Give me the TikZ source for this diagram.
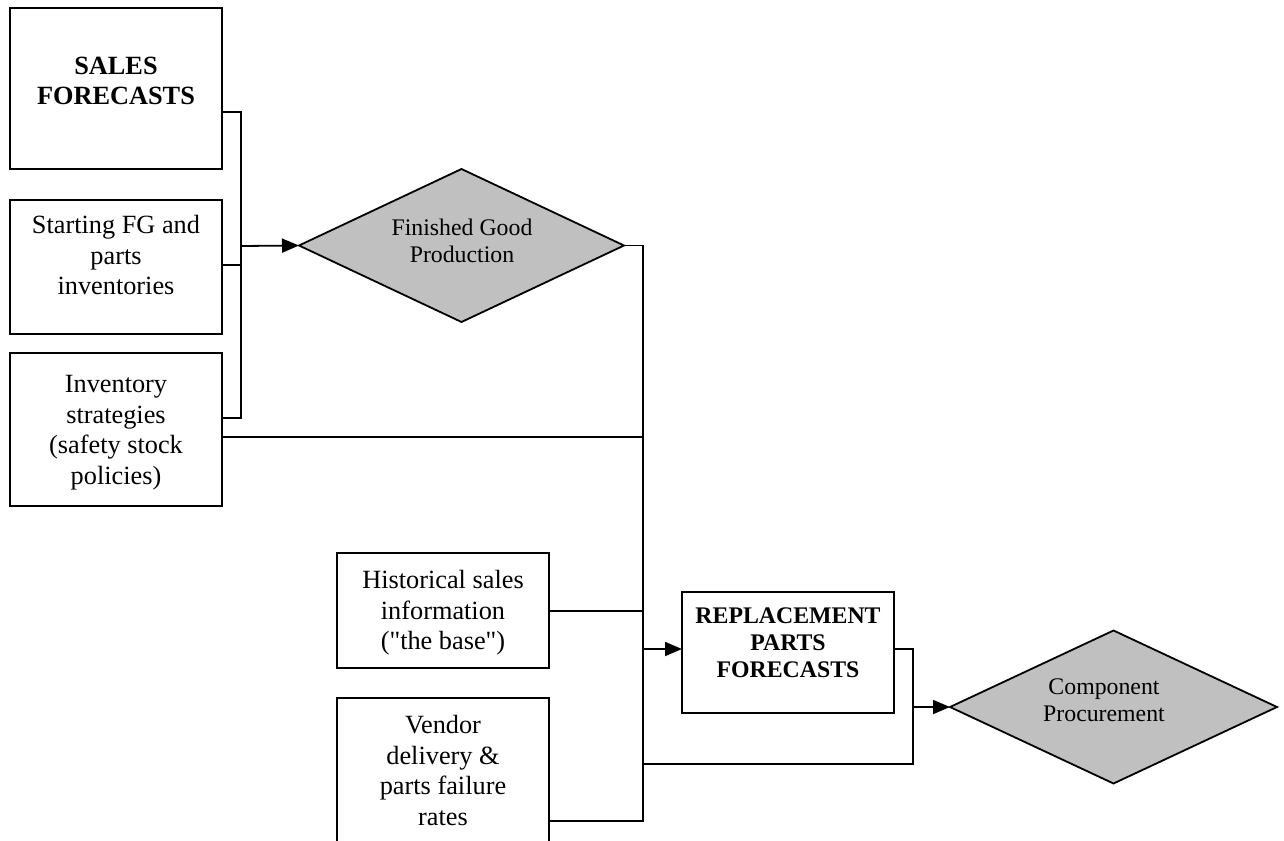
\documentclass[tikz,border=0pt]{standalone}
\usepackage{fontspec}
\setmainfont{Liberation Serif}
\newfontfamily\qfont{Liberation Serif}
\usetikzlibrary{shapes.geometric,arrows.meta}
\definecolor{dgray}{RGB}{192,192,192}
\begin{document}
\begin{tikzpicture}[x=1pt,y=-1pt,
  box/.style={draw=black,line width=1.8pt,rectangle,inner sep=0pt,outer sep=0pt,fill=white},
  dia/.style={draw=black,line width=1.8pt,diamond,fill=dgray,inner sep=0pt,outer sep=0pt},
  bigtxt/.style={anchor=north,align=center,inner sep=0pt,font=\fontsize{26.3pt}{30.5pt}\selectfont},
  smtxt/.style={anchor=north,align=center,inner sep=0pt,font=\fontsize{23.8pt}{27pt}\selectfont},
  wire/.style={draw=black,line width=1.8pt},
  arr/.style={wire,-{Triangle[length=17pt,width=14pt]}},
]
\useasboundingbox (0,0) rectangle (1284,840);
\fill[white] (0,0) rectangle (1284,840);
\clip (0,0) rectangle (1284,840);

% boxes
\node[box,minimum width=212pt,minimum height=161pt] (sales) at (116,88.5) {};
\node[box,minimum width=212pt,minimum height=134pt] (start) at (116,267) {};
\node[box,minimum width=212pt,minimum height=153pt] (inv) at (116,429.5) {};
\node[box,minimum width=212pt,minimum height=115pt] (hist) at (443,610.5) {};
\node[box,minimum width=212pt,minimum height=202pt] (vend) at (443,799) {};
\node[box,minimum width=212pt,minimum height=121pt] (repl) at (788,652.5) {};
\node[dia,minimum width=325pt,minimum height=153pt] (fgp) at (461.5,245.5) {};
\node[dia,minimum width=327pt,minimum height=153pt] (comp) at (1113.5,707) {};

% texts
\node[bigtxt] (salest) at (116,56.5) {\bfseries SALES\\\bfseries FORECASTS};
\node[bigtxt] (startt) at (116,215.5) {Starting FG and\\parts\\inventories};
\node[bigtxt] (invt) at (116,375.5) {Inventory\\strategies\\(safety stock\\policies)};
\node[bigtxt] (histt) at (443,570.5) {Historical sales\\information\\{\qfont ("the base")}};
\node[bigtxt] (vendt) at (443,715.5) {Vendor\\delivery \&\\parts failure\\rates};
\node[smtxt] (replt) at (788,608) {\bfseries REPLACEMENT\\\bfseries PARTS\\\bfseries FORECASTS};
\node[smtxt] (fgpt) at (462,219) {Finished Good\\Production};
\node[smtxt] (compt) at (1104,679) {Component\\Procurement};

% bus 1
\coordinate (b1top) at (241,112);
\coordinate (b1s) at (241,265);
\coordinate (b1mid) at (241,246);
\coordinate (b1bot) at (241,418);
\draw[wire] (sales.east |- b1top) -- (b1top) -- (b1bot) -- (inv.east |- b1bot);
\draw[wire] (start.east |- b1s) -- (b1s);
\draw[arr] (b1mid) -- (fgp.west);

% bus 2
\coordinate (b2top) at (643,245.5);
\coordinate (b2inv) at (643,437);
\coordinate (b2hist) at (643,611);
\coordinate (b2arr) at (643,649);
\coordinate (b2low) at (643,764);
\coordinate (b2bot) at (643,821);
\draw[wire] (fgp.east) -- (b2top) -- (b2bot) -- (vend.east |- b2bot);
\draw[wire] (inv.east |- b2inv) -- (b2inv);
\draw[wire] (hist.east |- b2hist) -- (b2hist);
\draw[arr] (b2arr) -- (repl.west |- b2arr);

% bus 3
\coordinate (b3top) at (913,649);
\coordinate (b3mid) at (913,707);
\coordinate (b3bot) at (913,764);
\draw[wire] (repl.east |- b3top) -- (b3top) -- (b3bot) -- (b2low);
\draw[arr] (b3mid) -- (comp.west);
\end{tikzpicture}
\end{document}
